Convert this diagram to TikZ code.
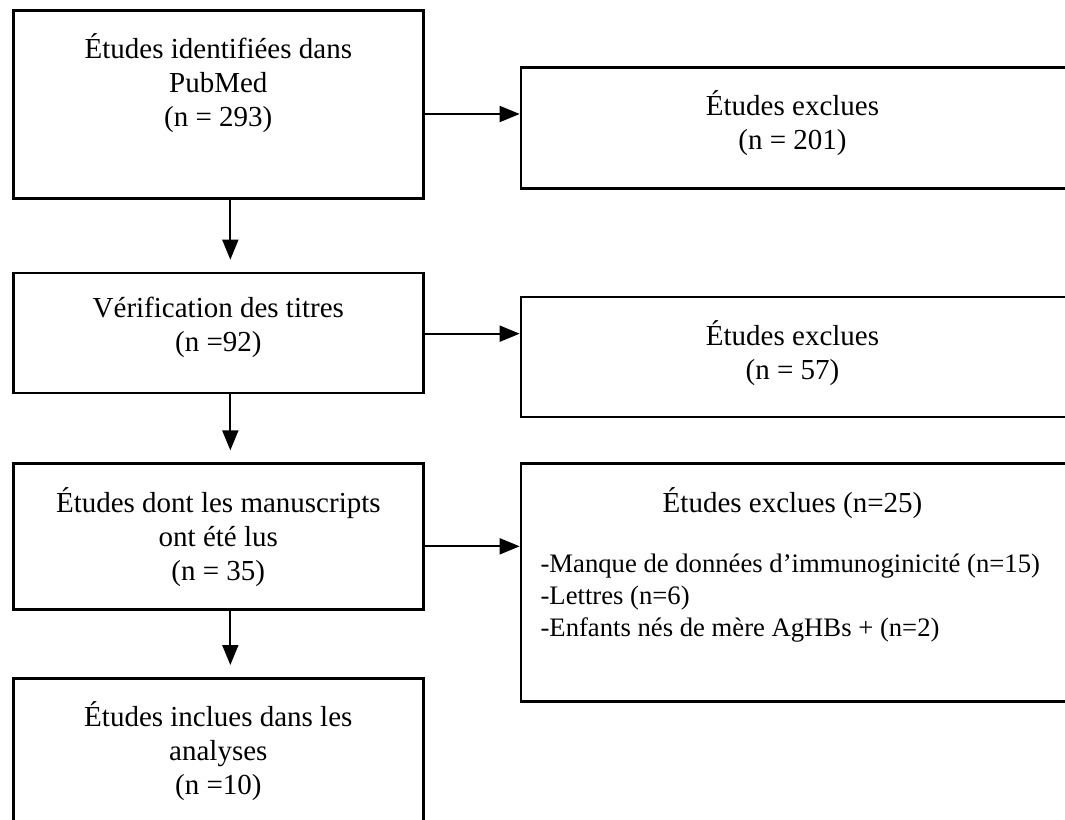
\documentclass[tikz,border=0pt]{standalone}
\usepackage{fontspec}
\setmainfont{Liberation Serif}
\usetikzlibrary{positioning,arrows.meta}

\begin{document}
\begin{tikzpicture}[box/.style = {draw, line width=2pt, minimum width=307.5pt, inner sep=0pt},
  exbox/.style = {draw, line width=2pt, minimum width=416.25pt, inner sep=0pt},
  txt/.style = {align=center, inner sep=0pt, execute at begin node=\strut},
  -{Triangle[length=15pt,width=12pt]}, line width=1.4pt,
  font=\fontsize{21.75}{25.5}\selectfont]
\useasboundingbox (0,0) rectangle (798.75pt,-615pt);

\node[box, minimum height=141pt, anchor=north west] (1) at (9pt,-6.75pt) {};
\node[box, minimum height=90pt] (2) [below=54pt of 1] {};
\node[box, minimum height=109.5pt] (3) [below=51pt of 2] {};
\node[box, minimum height=141pt] (4) [below=49.5pt of 3] {};

\node[exbox, minimum height=90.75pt] (5) [below right=42.75pt and 71.25pt of 1.north east] {};
\node[exbox, minimum height=90pt] (6) [below right=18pt and 71.25pt of 2.north east] {};
\node[exbox, minimum height=178.5pt] (7) [below right=0pt and 71.25pt of 3.north east] {};

\node[txt] (t1) [below=18pt of 1.north] {Études identifiées dans\\PubMed\\(n = 293)};
\node[txt] (t2) [below=18pt of 2.north] {Vérification des titres\\(n =92)};
\node[txt] (t3) [below=18pt of 3.north] {Études dont les manuscripts\\ont été lus\\(n = 35)};
\node[txt] (t4) [below=18pt of 4.north] {Études inclues dans les\\analyses\\(n =10)};
\node[txt, xshift=-4.5pt] (t5) [below=18pt of 5.north] {Études exclues\\(n = 201)};
\node[txt, xshift=-4.5pt] (t6) [below=18pt of 6.north] {Études exclues\\(n = 57)};
\node[txt, xshift=-4.5pt] (t7) [below=18pt of 7.north] {Études exclues (n=25)};
\node[txt, align=left, font=\fontsize{20}{24}\selectfont] (t8) [below right=68pt and 15pt of 7.north west] {-Manque de données d’immunoginicité (n=15)\\-Lettres (n=6)\\-Enfants nés de mère AgHBs + (n=2)};

\coordinate (a1) at ([yshift=-36pt]5.north west);
\coordinate (a2) at ([yshift=-28.5pt]6.north west);
\coordinate (a3) at ([yshift=-63pt]7.north west);

\draw (1.east |- a1) -- (a1);
\draw (2.east |- a2) -- (a2);
\draw (3.east |- a3) -- (a3);

\draw[shorten >=9pt] ([xshift=9pt]1.south) -- ([xshift=9pt]2.north);
\draw[shorten >=9pt] ([xshift=9pt]2.south) -- ([xshift=9pt]3.north);
\draw[shorten >=9pt] ([xshift=9pt]3.south) -- ([xshift=9pt]4.north);

\end{tikzpicture}
\end{document}
